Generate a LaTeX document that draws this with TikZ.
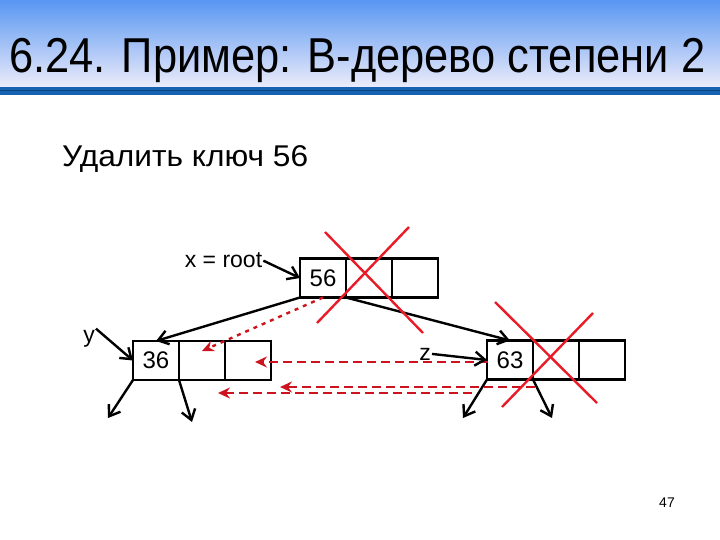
\documentclass[tikz,border=0pt]{standalone}
\usepackage{fontspec}
\setmainfont{Liberation Sans}
\usetikzlibrary{arrows.meta}
\definecolor{topblue}{RGB}{88,150,242}
\definecolor{botblue}{RGB}{236,236,250}
\definecolor{stripe}{RGB}{22,98,178}
\definecolor{xred}{RGB}{232,28,40}
\definecolor{dred}{RGB}{205,20,30}
\tikzset{
  cell/.style={draw, line width=2.4bp, minimum width=46bp, minimum height=39bp, inner sep=0pt, outer sep=0pt, font=\fontsize{24bp}{28bp}\selectfont},
  lbl/.style={inner sep=1bp, font=\fontsize{23bp}{26bp}\selectfont},
  arr/.style={line width=2.4bp, -{Straight Barb[length=10bp,width=14bp,line width=2.4bp]}},
  redarr/.style={dred, line width=2.4bp, dash pattern=on 9bp off 5bp, -{Stealth[length=12bp,width=11bp,inset=4bp]}},
  reddot/.style={dred, line width=2.4bp, dash pattern=on 4bp off 5bp, -{Stealth[length=12bp,width=11bp,inset=4bp]}},
  cross/.style={xred, line width=2.4bp}
}
\begin{document}
\begin{tikzpicture}[x=1bp,y=-1bp]
\useasboundingbox (0,0) rectangle (720,540);
% title bar
\shade[top color=topblue, bottom color=botblue] (0,0) rectangle (720,87);
\fill[stripe] (0,87) rectangle (720,95);
\draw[stripe!70!black, line width=1bp] (0,91) -- (720,91);
\node[anchor=base west, inner sep=0pt] (title) at (9,73)
  {\resizebox{696bp}{\height}{\fontsize{49bp}{56bp}\selectfont 6.24. Пример: B-дерево степени 2}};
\node[anchor=base west, inner sep=0pt] (task) at (62,167)
  {\resizebox{246bp}{\height}{\fontsize{30bp}{36bp}\selectfont Удалить ключ 56}};
% nodes
\node[cell] (r1) at (323,278) {56};
\node[cell] (r2) at (369,278) {};
\node[cell] (r3) at (415,278) {};
\node[cell] (l1) at (156,360.5) {36};
\node[cell] (l2) at (202,360.5) {};
\node[cell] (l3) at (248,360.5) {};
\node[cell] (o1) at (510,360) {63};
\node[cell] (o2) at (556,360) {};
\node[cell] (o3) at (602,360) {};
% labels
\node[lbl, anchor=base] (xr) at (223.5,268) {x = root};
\node[lbl, anchor=base] (yl) at (89,342) {y};
\node[lbl, anchor=base] (zl) at (425,360) {z};
\node[anchor=base, inner sep=0pt, font=\fontsize{14bp}{16bp}\selectfont] (pg) at (667,507) {47};
% coordinates
\coordinate (lc1) at (108,418);
\coordinate (lc2) at (192,422);
\coordinate (oc1) at (463,418);
\coordinate (oc2) at (552,418);
\coordinate (t1) at (202,351);
\coordinate (t2) at (255,362);
\coordinate (s2) at (488,362);
\coordinate (s3) at (535,387);
\coordinate (t3) at (280,387);
\coordinate (s4) at (472,393);
\coordinate (t4) at (218,393);
% red dashed arrows
\draw[reddot] (r1.south) -- (t1);
\draw[redarr] (s2) -- (t2);
\draw[redarr] (s3) -- (t3);
\draw[redarr] (s4) -- (t4);
% black connectors
\draw[arr] (xr.east) -- (r1.west);
\draw[arr] (yl.north east) -- (l1.west);
\draw[arr] (zl.east) -- (o1.west);
\draw[arr] (r1.south west) -- (l1.north);
\draw[arr] (r1.south east) -- (o1.north);
\draw[arr] (l1.south west) -- (lc1);
\draw[arr] (l1.south east) -- (lc2);
\draw[arr] (o1.south west) -- (oc1);
\draw[arr] (o1.south east) -- (oc2);
% crosses
\draw[cross] (325,232) -- (423,333);
\draw[cross] (409,227) -- (317,323);
\draw[cross] (495,302) -- (597,403);
\draw[cross] (593,313) -- (502,407);
\end{tikzpicture}
\end{document}
